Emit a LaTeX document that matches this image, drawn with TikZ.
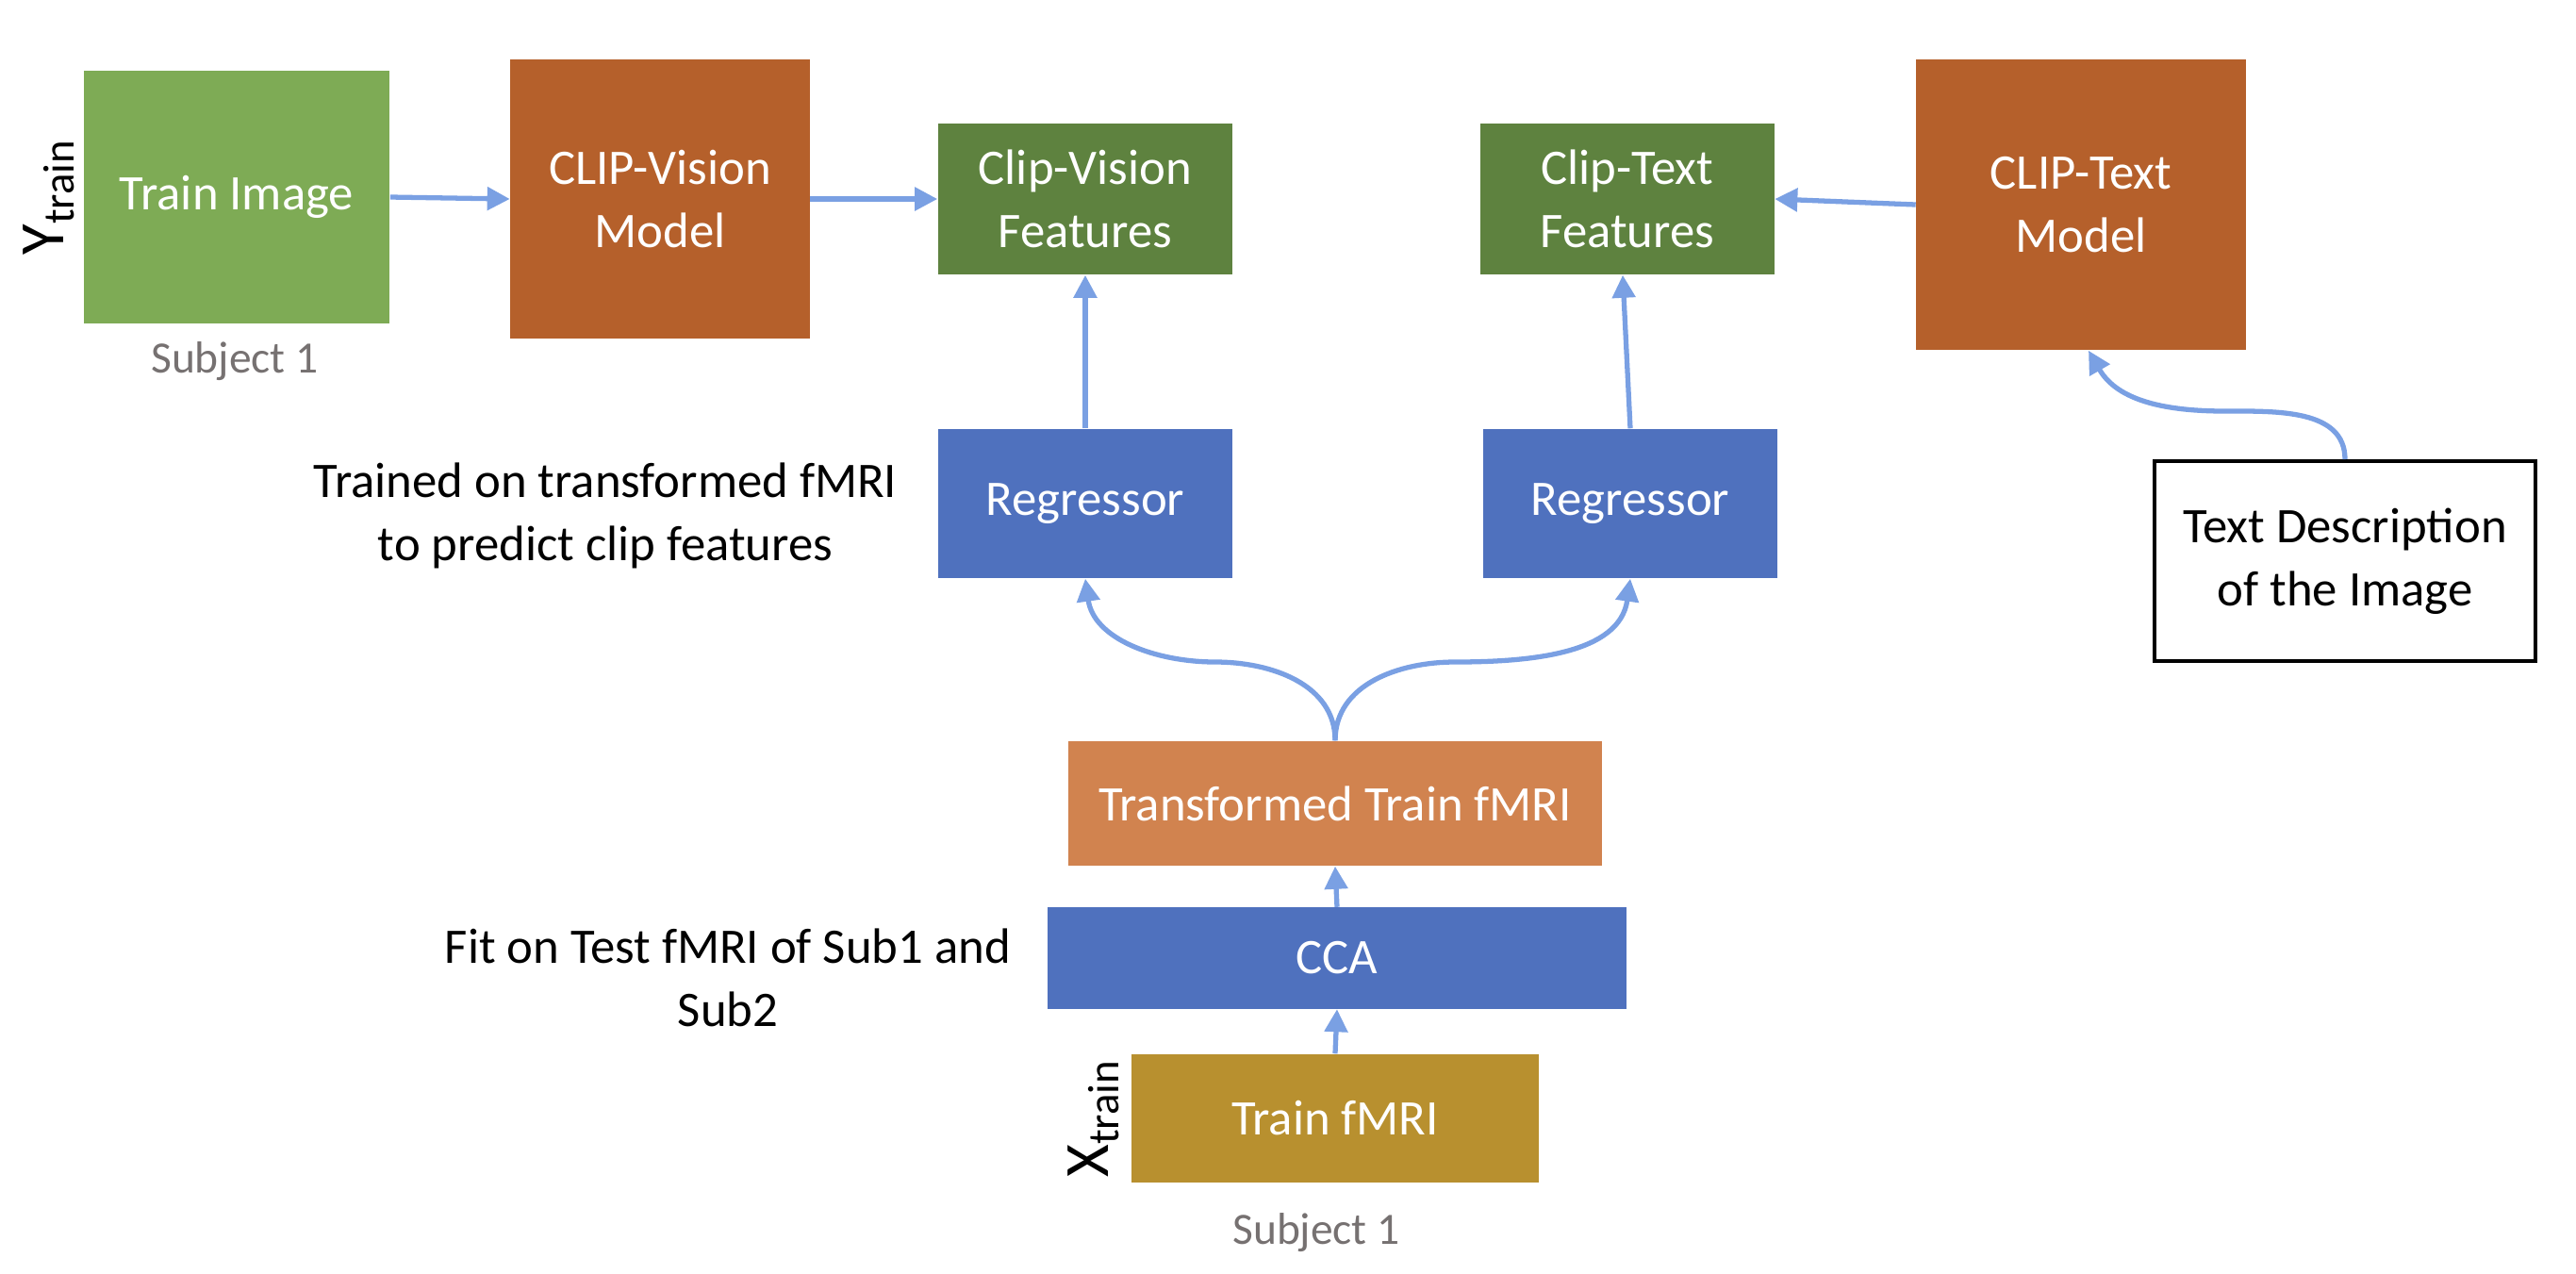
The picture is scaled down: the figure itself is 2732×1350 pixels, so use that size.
\documentclass[tikz,border=0pt]{standalone}
\usepackage{fontspec}
\setmainfont{Carlito}
\usepackage{xcolor}
\usepackage{tikz}
\usetikzlibrary{arrows.meta, positioning}

\definecolor{imggreen}{HTML}{7EAB55}
\definecolor{clipbrown}{HTML}{B5602B}
\definecolor{featgreen}{HTML}{5E823F}
\definecolor{regblue}{HTML}{4F71BE}
\definecolor{transorange}{HTML}{D1834F}
\definecolor{fmrigold}{HTML}{B8902F}
\definecolor{arrowblue}{HTML}{7AA0E3}
\definecolor{subjgray}{HTML}{767171}

\begin{document}
\begin{tikzpicture}[
  x=0.01cm, y=-0.01cm,
  blockbox/.style={rectangle, inner sep=0pt, text=white, align=center,
                   font=\fontsize{15}{19}\selectfont},
  notetext/.style={inner sep=0pt, align=center, font=\fontsize{15}{19}\selectfont},
  subjtext/.style={inner sep=0pt, text=subjgray, font=\fontsize{13.5}{16}\selectfont},
  varlabel/.style={inner sep=0pt, rotate=90, font=\fontsize{19}{22}\selectfont},
  flow/.style={draw=arrowblue, line width=1.5pt,
               -{Triangle[length=2.4mm, width=2.4mm]}}
]
\useasboundingbox (0,0) rectangle (2732,1350);

% top row
\node[blockbox, fill=imggreen, minimum width=3.24cm, minimum height=2.68cm]
  (trainimg) at (251, 209) {Train Image};
\node[blockbox, fill=clipbrown, minimum width=3.17cm, minimum height=2.96cm]
  (clipvis) at (700, 211) {CLIP-Vision\\Model};
\node[blockbox, fill=featgreen, minimum width=3.12cm, minimum height=1.60cm]
  (visfeat) at (1151, 211) {Clip-Vision\\Features};
\node[blockbox, fill=featgreen, minimum width=3.11cm, minimum height=1.60cm]
  (txtfeat) at (1726, 211) {Clip-Text\\Features};
\node[blockbox, fill=clipbrown, minimum width=3.49cm, minimum height=3.08cm]
  (cliptxt) at (2207, 217) {CLIP-Text\\Model};

% regressors
\node[blockbox, fill=regblue, minimum width=3.12cm, minimum height=1.58cm]
  (regvis) at (1151, 534) {Regressor};
\node[blockbox, fill=regblue, minimum width=3.12cm, minimum height=1.58cm]
  (regtxt) at (1729, 534) {Regressor};

\node[rectangle, draw=black, line width=1.1pt, align=center, inner sep=0pt,
      minimum width=4.04cm, minimum height=2.12cm,
      font=\fontsize{15}{19}\selectfont]
  (txtdesc) at (2487, 595) {Text Description\\of the Image};

% fMRI stack
\node[blockbox, fill=transorange, minimum width=5.65cm, minimum height=1.32cm]
  (transfmri) at (1416, 852) {Transformed Train fMRI};
\node[blockbox, fill=regblue, minimum width=6.13cm, minimum height=1.07cm]
  (cca) at (1418, 1016) {CCA};
\node[blockbox, fill=fmrigold, minimum width=4.32cm, minimum height=1.36cm]
  (trainfmri) at (1416, 1186) {Train fMRI};

% side labels
\node[varlabel] (ylab) at (52, 209) {Y\textsubscript{train}};
\node[varlabel] (xlab) at (1160, 1186) {X\textsubscript{train}};
\node[subjtext] (subjtop) at (249, 383) {Subject 1};
\node[subjtext] (subjbot) at (1396, 1307) {Subject 1};
\node[notetext] (regnote) at (642, 547)
  {Trained on transformed fMRI\\to predict clip features};
\node[notetext] (ccanote) at (772, 1037)
  {Fit on Test fMRI of Sub1 and\\Sub2};

\coordinate (splitL) at (1289, 702);
\coordinate (splitR) at (1543, 702);
\coordinate (descbend) at (2360, 436);

\draw[flow] (trainimg.east) -- (clipvis.west);
\draw[flow] (clipvis.east) -- (visfeat.west);
\draw[flow] (cliptxt.west) -- (txtfeat.east);
\draw[flow] (regvis.north) -- (visfeat.south);
\draw[flow] (regtxt.north) -- ([xshift=-0.05cm]txtfeat.south);
\draw[flow] (transfmri.north) to[out=90, in=0] (splitL)
  to[out=180, in=-82] (regvis.south);
\draw[flow] (transfmri.north) to[out=90, in=180] (splitR)
  to[out=0, in=-98] (regtxt.south);
\draw[flow] (txtdesc.north) to[out=90, in=0] (descbend)
  to[out=180, in=-60] ([xshift=0.08cm]cliptxt.south);
\draw[flow] (cca.north) -- (transfmri.south);
\draw[flow] (trainfmri.north) -- (cca.south);

\end{tikzpicture}
\end{document}
